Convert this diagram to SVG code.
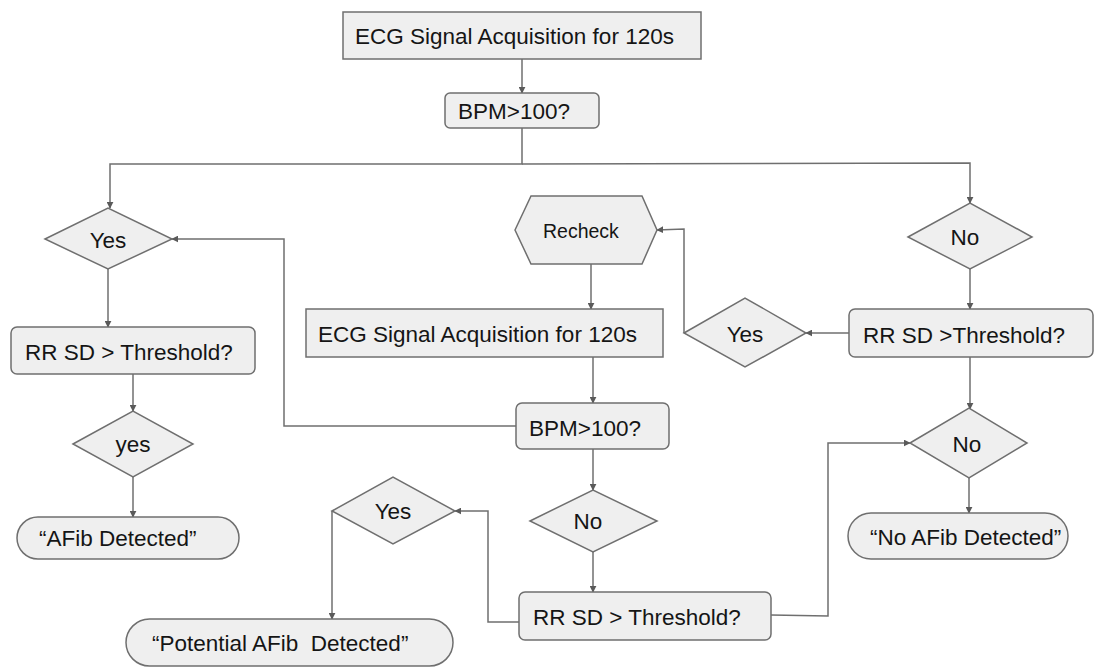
<svg xmlns="http://www.w3.org/2000/svg" width="1096" height="667" viewBox="0 0 1096 667">
  <style>
    .shape { fill: #efefef; stroke: #6f6f6f; stroke-width: 1.5; }
    .lbl { font-family: "Liberation Sans", Arial, sans-serif; font-size: 22.5px; fill: #151515; }
    .mid { text-anchor: middle; }
    .small { font-size: 19.5px; }
    .conn { fill: none; stroke: #6f6f6f; stroke-width: 1.5; }
  </style>
  <defs>
    <marker id="arrow" viewBox="0 0 10 10" refX="9" refY="5" markerWidth="7" markerHeight="7" markerUnits="userSpaceOnUse" orient="auto">
      <path d="M0,0 L10,5 L0,10 z" fill="#5a5a5a"/>
    </marker>
  </defs>
  <rect width="1096" height="667" fill="#ffffff"/>

  <!-- connectors -->
  <g id="connectors" class="conn" marker-end="url(#arrow)">
    <path d="M522,59 L522,93"/>
    <path d="M522,128 L522,164 L110,164 L110,208"/>
    <path d="M522,164 L970,163 L970,203"/>
    <path d="M108,269 L108,327"/>
    <path d="M133,374 L133,411"/>
    <path d="M133,477 L133,517"/>
    <path d="M970,269 L970,309"/>
    <path d="M849,333 L806,333"/>
    <path d="M684,333 L684,229 L657,230"/>
    <path d="M591,264 L591,309"/>
    <path d="M593,357 L593,403"/>
    <path d="M516,426 L284,426 L284,239 L172,239"/>
    <path d="M593,449 L593,490"/>
    <path d="M593,552 L593,592"/>
    <path d="M519,622 L488,622 L488,511 L455,511"/>
    <path d="M332,511 L332,619"/>
    <path d="M771,615 L828,616 L828,443 L910,443"/>
    <path d="M970,357 L970,409"/>
    <path d="M969,478 L969,513"/>
  </g>

  <!-- top acquisition -->
  <g id="acquire-top">
    <rect class="shape" x="343" y="12" width="358" height="47"/>
    <text class="lbl" x="355" y="44">ECG Signal Acquisition for 120s</text>
  </g>
  <g id="bpm-top">
    <rect class="shape" x="445" y="93" width="154" height="35" rx="5"/>
    <text class="lbl" x="458" y="119">BPM&gt;100?</text>
  </g>

  <!-- left branch -->
  <g id="yes-left">
    <polygon class="shape" points="45,239 108,208 172,239 108,269"/>
    <text class="lbl mid" x="108" y="248">Yes</text>
  </g>
  <g id="rrsd-left">
    <rect class="shape" x="11" y="327" width="244" height="47" rx="6"/>
    <text class="lbl" x="25" y="360">RR SD &gt; Threshold?</text>
  </g>
  <g id="yes-small">
    <polygon class="shape" points="73,444 133,411 193,444 133,477"/>
    <text class="lbl mid" x="133" y="452">yes</text>
  </g>
  <g id="afib">
    <rect class="shape" x="17" y="517" width="222" height="42" rx="21"/>
    <text class="lbl" x="39" y="546">“AFib Detected”</text>
  </g>

  <!-- right branch -->
  <g id="no-right">
    <polygon class="shape" points="908,237 970,203 1032,237 970,269"/>
    <text class="lbl mid" x="965" y="245">No</text>
  </g>
  <g id="rrsd-right">
    <rect class="shape" x="849" y="309" width="244" height="48" rx="6"/>
    <text class="lbl" x="863" y="343">RR SD &gt;Threshold?</text>
  </g>
  <g id="yes-right">
    <polygon class="shape" points="684,333 745,298 806,333 745,367"/>
    <text class="lbl mid" x="745" y="342">Yes</text>
  </g>
  <g id="no-lower">
    <polygon class="shape" points="910,443 969,408 1027,443 969,478"/>
    <text class="lbl mid" x="967" y="452">No</text>
  </g>
  <g id="no-afib">
    <rect class="shape" x="848" y="513" width="220" height="46" rx="23"/>
    <text class="lbl" x="870" y="545">“No AFib Detected”</text>
  </g>

  <!-- recheck loop -->
  <g id="recheck">
    <polygon class="shape" points="515,230 531,196 642,196 657,230 642,264 531,264"/>
    <text class="lbl small" x="543" y="238">Recheck</text>
  </g>
  <g id="acquire-recheck">
    <rect class="shape" x="306" y="309" width="357" height="48"/>
    <text class="lbl" x="318" y="342">ECG Signal Acquisition for 120s</text>
  </g>
  <g id="bpm-recheck">
    <rect class="shape" x="516" y="403" width="153" height="46" rx="6"/>
    <text class="lbl" x="529" y="436">BPM&gt;100?</text>
  </g>
  <g id="no-mid">
    <polygon class="shape" points="530,521 593,490 657,521 593,552"/>
    <text class="lbl mid" x="588" y="529">No</text>
  </g>
  <g id="rrsd-mid">
    <rect class="shape" x="519" y="592" width="252" height="48" rx="6"/>
    <text class="lbl" x="533" y="625">RR SD &gt; Threshold?</text>
  </g>
  <g id="yes-mid">
    <polygon class="shape" points="332,511 393,477 455,511 393,544"/>
    <text class="lbl mid" x="393" y="519">Yes</text>
  </g>
  <g id="potential-afib">
    <rect class="shape" x="126" y="619" width="327" height="47" rx="23.5"/>
    <text class="lbl" x="152" y="651" xml:space="preserve">“Potential AFib  Detected”</text>
  </g>
</svg>
